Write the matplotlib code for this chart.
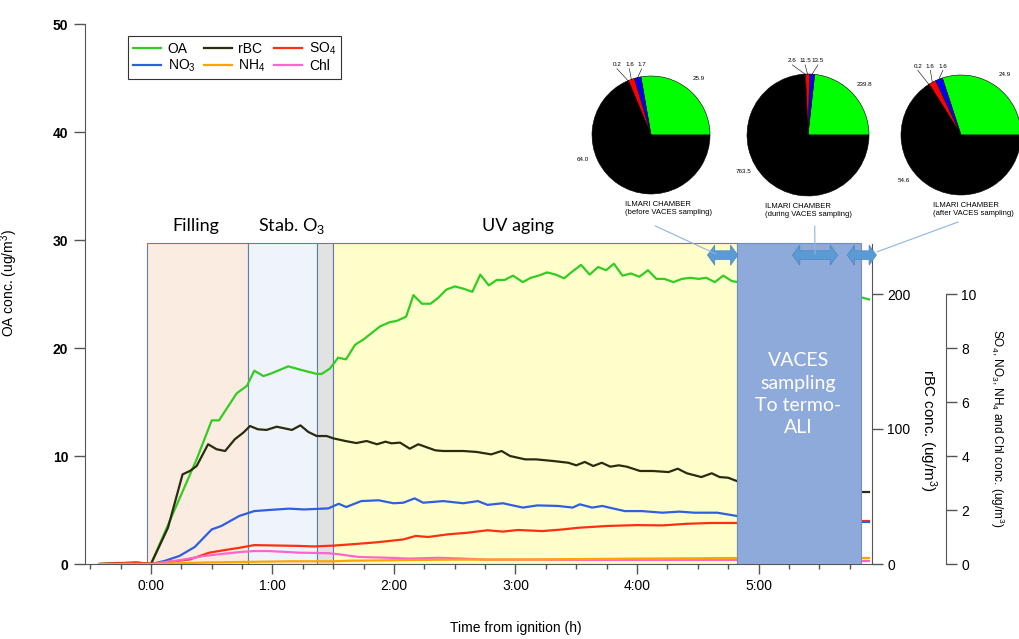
import numpy as np
import matplotlib
matplotlib.use("Agg")
import matplotlib.pyplot as plt
from matplotlib.patches import Rectangle, Polygon, ConnectionPatch
from matplotlib.ticker import MultipleLocator, FuncFormatter

plt.rcParams['font.family'] = ['Liberation Sans', 'DejaVu Sans']
plt.rcParams['mathtext.fontset'] = 'custom'
plt.rcParams['mathtext.rm'] = 'Liberation Sans'
plt.rcParams['mathtext.it'] = 'Liberation Sans:italic'
plt.rcParams['mathtext.bf'] = 'Liberation Sans:bold'

# ---- time series (time in hours from ignition) ----
oa_t = [-0.42, -0.28, -0.12, 0.0, 0.376, 0.50, 0.56, 0.705, 0.79, 0.85, 0.925, 0.98, 1.13, 1.226,
        1.364, 1.405, 1.473, 1.54, 1.605, 1.68, 1.75, 1.885, 1.967, 2.02, 2.10, 2.16, 2.23, 2.30,
        2.365, 2.43, 2.50, 2.57, 2.645, 2.71, 2.78, 2.845, 2.91, 2.98, 3.06, 3.125, 3.19, 3.26,
        3.33, 3.40, 3.47, 3.54, 3.61, 3.68, 3.745, 3.81, 3.88, 3.95, 4.02, 4.09, 4.16, 4.225,
        4.30, 4.37, 4.44, 4.505, 4.57, 4.64, 4.71, 4.78, 4.83]
oa = [0.0, 0.1, 0.1, 0.0, 9.7, 13.3, 13.3, 15.8, 16.5, 17.9, 17.4, 17.6, 18.3, 18.0,
      17.6, 17.6, 18.1, 19.1, 18.95, 20.3, 20.8, 22.0, 22.4, 22.5, 22.9, 24.9, 24.1, 24.1,
      24.65, 25.4, 25.7, 25.5, 25.2, 26.8, 25.8, 26.3, 26.3, 26.7, 26.1, 26.5, 26.7, 27.0,
      26.8, 26.45, 27.1, 27.7, 26.8, 27.5, 27.2, 27.8, 26.7, 26.9, 26.6, 27.2, 26.4, 26.4,
      26.1, 26.4, 26.5, 26.4, 26.5, 26.1, 26.7, 26.2, 26.1]

bc_t = [-0.42, -0.28, -0.12, 0.0, 0.14, 0.26, 0.32, 0.376, 0.47, 0.54, 0.61, 0.69, 0.76, 0.815,
        0.88, 0.95, 1.035, 1.16, 1.23, 1.295, 1.364, 1.446, 1.50, 1.60, 1.69, 1.775, 1.86, 1.93,
        1.98, 2.05, 2.13, 2.20, 2.34, 2.405, 2.57, 2.68, 2.80, 2.886, 2.955, 3.08, 3.17, 3.31,
        3.435, 3.50, 3.57, 3.64, 3.71, 3.78, 3.85, 3.915, 4.025, 4.13, 4.26, 4.335, 4.41, 4.53,
        4.615, 4.68, 4.75, 4.82]
bc = [0.0, 0.5, 1.0, 0.0, 26.9, 66.4, 68.9, 72.6, 88.7, 85.0, 83.7, 92.4, 97.3, 102.2,
      99.8, 99.3, 101.7, 99.3, 102.7, 97.8, 94.8, 94.8, 93.1, 91.1, 89.6, 91.1, 88.7, 90.6,
      89.4, 89.9, 85.4, 88.7, 84.2, 83.7, 83.7, 83.0, 81.2, 83.7, 80.0, 77.5, 77.5, 76.3,
      75.0, 73.1, 75.6, 72.6, 75.0, 72.1, 73.1, 72.1, 68.9, 68.9, 68.1, 70.6, 67.2, 64.4,
      67.2, 64.4, 63.9, 61.5]

no3_t = [-0.42, 0.0, 0.11, 0.235, 0.36, 0.50, 0.58, 0.727, 0.85, 0.97, 1.136, 1.26, 1.46, 1.545,
         1.607, 1.73, 1.873, 1.996, 2.077, 2.17, 2.24, 2.405, 2.57, 2.69, 2.77, 2.896, 3.06,
         3.18, 3.35, 3.47, 3.53, 3.63, 3.715, 3.80, 3.90, 4.04, 4.21, 4.35, 4.47, 4.66, 4.78, 4.82]
no3 = [0.0, 0.0, 0.11, 0.3, 0.63, 1.28, 1.41, 1.78, 1.96, 2.0, 2.05, 2.02, 2.06, 2.23,
       2.11, 2.33, 2.36, 2.25, 2.27, 2.43, 2.27, 2.33, 2.25, 2.33, 2.19, 2.25, 2.09,
       2.17, 2.15, 2.09, 2.21, 2.09, 2.15, 2.06, 1.96, 1.96, 1.90, 1.94, 1.90, 1.90, 1.81, 1.78]

so4_t = [-0.42, -0.1, 0.0, 0.32, 0.48, 0.60, 0.727, 0.85, 0.97, 1.217, 1.34, 1.50, 1.71, 1.873,
         2.077, 2.18, 2.28, 2.446, 2.61, 2.77, 2.896, 3.02, 3.22, 3.39, 3.51, 3.76, 4.00, 4.21,
         4.41, 4.62, 4.82]
so4 = [0.0, 0.05, 0.0, 0.17, 0.42, 0.51, 0.60, 0.70, 0.69, 0.67, 0.65, 0.68, 0.75, 0.81,
       0.91, 1.04, 1.0, 1.10, 1.16, 1.25, 1.20, 1.26, 1.22, 1.28, 1.34, 1.41, 1.44, 1.43,
       1.49, 1.52, 1.52]

chl_t = [-0.42, 0.0, 0.235, 0.44, 0.60, 0.727, 0.85, 0.97, 1.217, 1.46, 1.545, 1.71, 1.955,
         2.12, 2.365, 2.57, 2.77, 3.18, 3.59, 4.0, 4.82]
chl = [0.0, 0.0, 0.14, 0.30, 0.38, 0.44, 0.48, 0.48, 0.42, 0.40, 0.36, 0.26, 0.23,
       0.20, 0.23, 0.20, 0.16, 0.16, 0.15, 0.15, 0.15]

nh4_t = [-0.42, 0.0, 0.5, 1.136, 1.5, 1.63, 2.4, 3.18, 4.0, 4.82]
nh4 = [0.0, 0.0, 0.06, 0.10, 0.10, 0.12, 0.16, 0.17, 0.20, 0.22]

# points measured after VACES sampling
after_t = [5.84, 5.91]
oa_after = [24.7, 24.5]
bc_after = [53.3, 53.3]
so4_after = [1.6, 1.6]
no3_after = [1.55, 1.55]
nh4_after = [0.22, 0.22]
chl_after = [0.12, 0.12]

# experiment phases
phase_edges = [-0.03, 0.80, 1.37, 1.50, 4.82]
phase_colors = ['#fbece2', '#eef4fa', '#e2e2e2', '#ffffcc']
vaces_span = [4.82, 5.84]
shade_top = 29.7

# chamber composition pies: OA, NO3, SO4, NH4, rBC
pie_names = ['OA', 'NO3', 'SO4', 'NH4', 'rBC']
pie_colors = ['#00ff00', '#0000ff', '#ff0000', '#a0522d', '#000000']
pie_before = [25.9, 1.7, 1.6, 0.2, 64.0]
pie_during = [239.8, 13.5, 11.5, 2.6, 763.5]
pie_after = [24.9, 1.6, 1.6, 0.2, 54.6]

C_OA, C_BC, C_SO4 = '#33cc22', '#2b2b12', '#ff3010'
C_NO3, C_NH4, C_CHL = '#2f5fe0', '#ffa500', '#ff66cc'

W_PX, H_PX = 1020, 639
AX_L, AX_R, AX_T, AX_B = 85, 872, 24, 564


def double_arrow(axis, x0, x1, y, trans):
    ''' blue block double arrow marking a sampling window '''
    w, hw, hl = 0.4, 0.93, 0.06
    pts = [(x0, y), (x0 + hl, y + hw), (x0 + hl, y + w), (x1 - hl, y + w), (x1 - hl, y + hw),
           (x1, y), (x1 - hl, y - hw), (x1 - hl, y - w), (x0 + hl, y - w), (x0 + hl, y - hw)]
    p = Polygon(pts, closed=True, facecolor='#5b9bd5', edgecolor='#4a86c0', lw=0.5,
                transform=trans, zorder=7, clip_on=False)
    axis.add_patch(p)


def draw_pie(fig, cx, cy, r, values, caption, cap_dx, bc_shift):
    ''' chamber composition pie, centre and radius in pixels '''
    pax = fig.add_axes([(cx - r) / W_PX, 1 - (cy + r) / H_PX, 2 * r / W_PX, 2 * r / H_PX])
    pax.pie(values, colors=pie_colors, startangle=0, counterclock=True, radius=1,
            wedgeprops=dict(edgecolor='black', linewidth=0.4))
    pax.set_xlim(-1, 1)
    pax.set_ylim(-1, 1)
    pax.set_axis_off()

    bounds = np.cumsum([0] + list(values)) / sum(values) * 360
    mids = np.radians((bounds[:-1] + bounds[1:]) / 2)
    kw = dict(fontsize=4.5, ha='center', va='center')
    pax.text(1.25 * np.cos(mids[0]), 1.25 * np.sin(mids[0]), f"{values[0]:.1f}", **kw)
    a = mids[4] - np.radians(bc_shift)
    pax.text(1.22 * np.cos(a), 1.22 * np.sin(a), f"{values[4]:.1f}", **kw)

    # small slices get labels lined up above the pie
    ex = np.cos(mids[1:4])
    ey = np.sin(mids[1:4])
    ly = ey.max() + 0.22
    for k, i in enumerate([1, 2, 3]):
        lx = ex.mean() - 0.05 + (1 - k) * 0.21
        pax.text(lx, ly, f"{values[i]:.1f}", **kw)
        pax.plot([ex[k], lx], [ey[k], ly - 0.07], color='black', lw=0.4, clip_on=False)

    pax.text(cap_dx, -1.12, caption, fontsize=5.5, ha='left', va='top', linespacing=1.15)
    return pax


def main():
    fig = plt.figure(figsize=(W_PX / 100, H_PX / 100), dpi=100)
    ax = fig.add_axes([AX_L / W_PX, 1 - AX_B / H_PX, (AX_R - AX_L) / W_PX, (AX_B - AX_T) / H_PX])
    ax2 = ax.twinx()
    ax3 = ax.twinx()

    ax.set_xlim(-0.543, 5.934)
    ax.set_ylim(0, 50)
    ax2.set_ylim(0, 400)
    ax3.set_ylim(0, 20)

    spine_c = '#555555'
    for a in (ax, ax2, ax3):
        for s in a.spines.values():
            s.set_visible(False)
            s.set_color(spine_c)
    ax.spines['left'].set_visible(True)
    ax.spines['bottom'].set_visible(True)
    ax2.spines['right'].set_visible(True)
    ax2.spines['right'].set_bounds(0, 237)
    ax3.spines['right'].set_visible(True)
    ax3.spines['right'].set_position(('axes', 1 + 74 / (AX_R - AX_L)))
    ax3.spines['right'].set_bounds(0, 10)

    # phase shading
    for x0, x1, c in zip(phase_edges[:-1], phase_edges[1:], phase_colors):
        ax.add_patch(Rectangle((x0, 0), x1 - x0, shade_top, facecolor=c,
                               edgecolor='#5b7fae', lw=0.8, zorder=0.5))
    ax.text(0.37, 31.3, "Filling", fontsize=13, family='Lato', ha='center', va='center')
    ax.text(1.16, 31.3, "Stab. O$_3$", fontsize=13, family='Lato', ha='center', va='center')
    ax.text(3.02, 31.3, "UV aging", fontsize=13, family='Lato', ha='center', va='center')

    lw = 1.6
    l_oa, = ax.plot(oa_t, oa, color=C_OA, lw=lw)
    ax.plot(after_t, oa_after, color=C_OA, lw=lw)
    l_bc, = ax2.plot(bc_t, bc, color=C_BC, lw=lw)
    ax2.plot(after_t, bc_after, color=C_BC, lw=lw)
    l_no3, = ax3.plot(no3_t, no3, color=C_NO3, lw=lw)
    l_so4, = ax3.plot(so4_t, so4, color=C_SO4, lw=lw)
    l_chl, = ax3.plot(chl_t, chl, color=C_CHL, lw=lw)
    l_nh4, = ax3.plot(nh4_t, nh4, color=C_NH4, lw=lw)
    ax3.plot(after_t, so4_after, color=C_SO4, lw=lw)
    ax3.plot(after_t, no3_after, color=C_NO3, lw=lw)
    ax3.plot(after_t, nh4_after, color=C_NH4, lw=lw)
    ax3.plot(after_t, chl_after, color=C_CHL, lw=lw)

    # VACES sampling window drawn over the traces
    ax3.add_patch(Rectangle((vaces_span[0], 0), vaces_span[1] - vaces_span[0], shade_top,
                            facecolor='#8eaadb', edgecolor='#6f8fc0', lw=0.8,
                            transform=ax.transData, zorder=5))
    ax3.text(sum(vaces_span) / 2, 15.7, "VACES\nsampling\nTo termo-\nALI", transform=ax.transData,
             color='white', fontsize=14, family='Lato', ha='center', va='center',
             linespacing=1.38, zorder=6)

    double_arrow(ax3, 4.58, 4.83, 28.6, ax.transData)
    double_arrow(ax3, 5.28, 5.65, 28.6, ax.transData)
    double_arrow(ax3, 5.73, 5.97, 28.6, ax.transData)

    # axes ticks and labels
    ax.set_yticks(range(0, 51, 10), [str(v) for v in range(0, 51, 10)], fontweight='bold')
    ax.tick_params(axis='y', direction='out', length=8, width=1, pad=4, labelsize=10, color=spine_c)
    ax.xaxis.set_major_locator(MultipleLocator(1))
    ax.xaxis.set_minor_locator(MultipleLocator(0.25))
    ax.xaxis.set_major_formatter(FuncFormatter(lambda v, p: f"{int(round(v))}:00"))
    ax.tick_params(axis='x', which='major', direction='out', length=7, width=1, pad=4,
                   labelsize=10, color=spine_c)
    ax.tick_params(axis='x', which='minor', direction='out', length=3.5, width=1, color=spine_c)

    ax2.set_yticks([0, 100, 200])
    ax2.tick_params(axis='y', direction='out', length=8, width=1, pad=3, labelsize=10, color=spine_c)
    ax3.set_yticks(range(0, 11, 2))
    ax3.tick_params(axis='y', direction='out', length=8, width=1, pad=3, labelsize=10, color=spine_c)

    ax.set_ylabel("OA conc. (ug/m$^3$)", fontsize=10)
    ax.yaxis.set_label_coords(-0.083, 0.52)
    ax.set_xlabel("Time from ignition (h)", fontsize=10)
    ax.xaxis.set_label_coords(0.548, -0.105)
    ax2.set_ylabel("rBC conc. (ug/m$^3$)", fontsize=11, rotation=270, va='center', ha='center')
    ax2.yaxis.set_label_coords(1.071, 0.248)
    ax3.set_ylabel("SO$_4$, NO$_3$, NH$_4$ and Chl conc. (ug/m$^3$)", fontsize=8.5,
                   rotation=270, va='center', ha='center')
    ax3.yaxis.set_label_coords(1.159, 0.252)

    leg = ax3.legend([l_oa, l_no3, l_bc, l_nh4, l_so4, l_chl],
                     ["OA", "NO$_3$", "rBC", "NH$_4$", "SO$_4$", "Chl"],
                     ncol=3, loc='upper left', bbox_to_anchor=(0.0546, 0.978), fontsize=10,
                     fancybox=False, edgecolor='#333333', framealpha=1, handlelength=2.0,
                     handletextpad=0.5, columnspacing=0.6, borderpad=0.35, labelspacing=0.15,
                     borderaxespad=0)
    leg.get_frame().set_linewidth(0.8)

    # chamber composition pies and links to the sampling windows
    p1 = draw_pie(fig, 651, 135, 59, pie_before, "ILMARI CHAMBER\n(before VACES sampling)", -0.44, 37)
    p2 = draw_pie(fig, 808, 135, 61, pie_during, "ILMARI CHAMBER\n(during VACES sampling)", -0.70, 17)
    p3 = draw_pie(fig, 961, 135, 60, pie_after, "ILMARI CHAMBER\n(after VACES sampling)", -0.47, 23)
    for pax, xa, xb in [(p1, (0.07, -1.54), (4.65, 28.7)),
                        (p2, (0.11, -1.49), (5.465, 28.7)),
                        (p3, (-0.05, -1.45), (5.975, 28.9))]:
        con = ConnectionPatch(xyA=xa, coordsA=pax.transData, xyB=xb, coordsB=ax.transData,
                              color='#8db4e2', lw=0.8)
        fig.add_artist(con)

    fig.savefig("out.png", dpi=100)


if __name__ == "__main__":
    main()
